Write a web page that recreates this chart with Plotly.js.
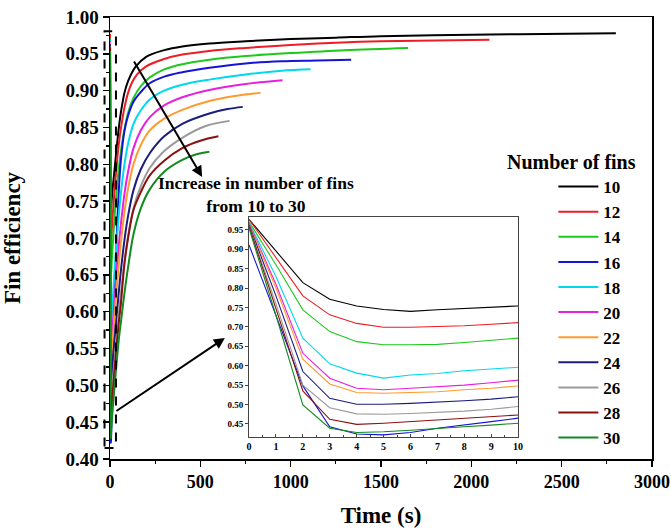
<!DOCTYPE html>
<html>
<head>
<meta charset="utf-8">
<script src="https://cdn.plot.ly/plotly-3.0.1.min.js"></script>
<style>html,body{margin:0;padding:0;background:#fff;}#chart{width:671px;height:532px;}</style>
</head>
<body>
<div id="chart"></div>
<script>
// ---------- data ----------
var finCounts = ["10", "12", "14", "16", "18", "20", "22", "24", "26", "28", "30"];
var colors = ["#000000", "#ee1c24", "#1ec81e", "#1414d8", "#00d8f0", "#e81ee0", "#ff9a30", "#1c1c80", "#9a9a9a", "#8a1010", "#128a20"];

// first 10 s (shown in the inset), t = 0..10 s
var insetTime = [0, 1, 2, 3, 4, 5, 6, 7, 8, 9, 10];
var early10 = [0.977, 0.896, 0.814, 0.771, 0.754, 0.745, 0.740, 0.744, 0.747, 0.751, 0.754];
var early12 = [0.977, 0.880, 0.780, 0.731, 0.709, 0.699, 0.699, 0.701, 0.703, 0.707, 0.711];
var early14 = [0.971, 0.860, 0.744, 0.688, 0.662, 0.654, 0.654, 0.655, 0.660, 0.665, 0.671];
var early16 = [0.911, 0.730, 0.548, 0.443, 0.424, 0.422, 0.428, 0.439, 0.447, 0.456, 0.465];
var early18 = [0.969, 0.830, 0.671, 0.605, 0.581, 0.568, 0.576, 0.580, 0.587, 0.592, 0.596];
var early20 = [0.967, 0.810, 0.632, 0.568, 0.542, 0.538, 0.542, 0.546, 0.550, 0.556, 0.563];
var early22 = [0.965, 0.800, 0.617, 0.553, 0.531, 0.529, 0.531, 0.533, 0.538, 0.542, 0.548];
var early24 = [0.963, 0.780, 0.585, 0.516, 0.501, 0.501, 0.503, 0.506, 0.510, 0.514, 0.520];
var early26 = [0.960, 0.760, 0.550, 0.492, 0.476, 0.475, 0.477, 0.480, 0.483, 0.488, 0.495];
var early28 = [0.959, 0.750, 0.535, 0.462, 0.449, 0.452, 0.456, 0.460, 0.465, 0.469, 0.473];
var early30 = [0.954, 0.730, 0.499, 0.439, 0.428, 0.430, 0.434, 0.439, 0.443, 0.447, 0.452];

// later times (s) and efficiencies
var late10t = [15, 20, 30, 40, 50, 60, 80, 100, 140, 200, 300, 400, 550, 750, 1000, 1250, 1500, 2000, 2400, 2800];
var late10  = [0.768, 0.780, 0.805, 0.830, 0.852, 0.870, 0.897, 0.913, 0.932, 0.946, 0.955, 0.960, 0.964, 0.967, 0.970, 0.972, 0.974, 0.976, 0.977, 0.978];
var late12t = [15, 20, 30, 40, 50, 60, 80, 100, 120, 150, 200, 300, 400, 550, 750, 1000, 1250, 1500, 1800, 2100];
var late12  = [0.730, 0.748, 0.780, 0.807, 0.830, 0.848, 0.877, 0.897, 0.910, 0.922, 0.933, 0.943, 0.949, 0.954, 0.958, 0.962, 0.965, 0.967, 0.968, 0.969];
var late14t = [15, 20, 30, 40, 50, 60, 80, 100, 130, 170, 220, 300, 400, 550, 750, 1000, 1300, 1650];
var late14  = [0.690, 0.710, 0.745, 0.774, 0.797, 0.817, 0.848, 0.870, 0.890, 0.906, 0.918, 0.929, 0.936, 0.942, 0.947, 0.951, 0.955, 0.958];
var late16t = [15, 20, 30, 40, 50, 60, 80, 100, 130, 170, 220, 300, 400, 550, 750, 950, 1150, 1335];
var late16  = [0.520, 0.570, 0.655, 0.720, 0.770, 0.805, 0.845, 0.866, 0.885, 0.898, 0.910, 0.919, 0.925, 0.931, 0.937, 0.940, 0.941, 0.942];
var late18t = [15, 20, 30, 40, 50, 60, 80, 100, 130, 170, 220, 300, 400, 550, 750, 950, 1110];
var late18  = [0.615, 0.635, 0.672, 0.705, 0.735, 0.760, 0.800, 0.828, 0.855, 0.873, 0.888, 0.900, 0.908, 0.915, 0.922, 0.927, 0.929];
var late20t = [15, 20, 30, 40, 50, 60, 80, 100, 130, 170, 220, 300, 400, 550, 750, 955];
var late20  = [0.580, 0.598, 0.632, 0.664, 0.693, 0.718, 0.760, 0.790, 0.822, 0.846, 0.864, 0.880, 0.891, 0.901, 0.909, 0.914];
var late22t = [15, 20, 30, 40, 50, 60, 80, 100, 130, 170, 220, 300, 400, 550, 700, 833];
var late22  = [0.562, 0.578, 0.610, 0.640, 0.668, 0.693, 0.735, 0.767, 0.800, 0.826, 0.846, 0.862, 0.874, 0.886, 0.893, 0.897];
var late24t = [15, 20, 30, 40, 50, 60, 80, 100, 130, 170, 220, 300, 400, 550, 650, 735];
var late24  = [0.532, 0.546, 0.575, 0.603, 0.630, 0.655, 0.697, 0.730, 0.765, 0.793, 0.815, 0.838, 0.855, 0.869, 0.875, 0.878];
var late26t = [15, 20, 30, 40, 50, 60, 80, 100, 130, 170, 220, 300, 400, 530, 662];
var late26  = [0.507, 0.520, 0.547, 0.574, 0.600, 0.624, 0.667, 0.702, 0.740, 0.770, 0.795, 0.818, 0.836, 0.852, 0.859];
var late28t = [15, 20, 30, 40, 50, 60, 80, 100, 130, 170, 220, 300, 400, 500, 600];
var late28  = [0.490, 0.505, 0.535, 0.563, 0.588, 0.610, 0.665, 0.700, 0.738, 0.762, 0.785, 0.805, 0.822, 0.832, 0.838];
var late30t = [15, 20, 30, 40, 50, 60, 80, 100, 130, 170, 220, 300, 400, 470, 550];
var late30  = [0.468, 0.483, 0.512, 0.540, 0.565, 0.585, 0.625, 0.660, 0.705, 0.740, 0.766, 0.790, 0.806, 0.813, 0.817];

var earlyAll = [early10, early12, early14, early16, early18, early20, early22, early24, early26, early28, early30];
var lateTimes = [late10t, late12t, late14t, late16t, late18t, late20t, late22t, late24t, late26t, late28t, late30t];
var lateVals = [late10, late12, late14, late16, late18, late20, late22, late24, late26, late28, late30];

var xTicksMain = [0, 500, 1000, 1500, 2000, 2500, 3000];
var insetXTicks = [0, 1, 2, 3, 4, 5, 6, 7, 8, 9, 10];

// ---------- traces ----------
var serif = "Liberation Serif, Times New Roman, serif";
var traces = [];
for (var i = 0; i < finCounts.length; i++) {
  traces.push({
    type: "scatter", mode: "lines",
    x: insetTime.concat(lateTimes[i]),
    y: earlyAll[i].concat(lateVals[i]),
    name: finCounts[i],
    line: {color: colors[i], width: 2, shape: "spline", smoothing: 1},
    xaxis: "x", yaxis: "y", showlegend: true
  });
}
for (var j = 0; j < finCounts.length; j++) {
  traces.push({
    type: "scatter", mode: "lines",
    x: insetTime, y: earlyAll[j],
    name: finCounts[j],
    line: {color: colors[j], width: 1.1},
    xaxis: "x2", yaxis: "y2", showlegend: false
  });
}

var layout = {
  width: 671, height: 532,
  margin: {l: 110, r: 19, t: 17, b: 73},
  paper_bgcolor: "#ffffff", plot_bgcolor: "#ffffff",
  font: {family: serif, color: "#000"},
  showlegend: true,
  legend: {
    x: 0.818, y: 0.656, xanchor: "left", yanchor: "top",
    bgcolor: "rgba(0,0,0,0)", borderwidth: 0,
    font: {family: serif, size: 17, weight: "bold", color: "#000"},
    tracegroupgap: 0, itemwidth: 40
  },
  xaxis: {
    domain: [0, 1], range: [0, 3000], tickvals: xTicksMain,
    ticks: "outside", ticklen: 6, tickwidth: 1.5, tickcolor: "#000",
    showline: true, linewidth: 1.5, linecolor: "#000", mirror: true,
    showgrid: false, zeroline: false, ticklabeloverflow: "allow",
    minor: {ticks: "outside", ticklen: 3, dtick: 250, tickcolor: "#000", tickwidth: 1.2, showgrid: false},
    tickfont: {family: serif, size: 18, weight: "bold"},
    title: {text: "Time (s)", font: {family: serif, size: 23, weight: "bold"}, standoff: 16}
  },
  yaxis: {
    domain: [0, 1], range: [0.4, 1.0], dtick: 0.05, tickformat: ".2f",
    ticks: "outside", ticklen: 6, tickwidth: 1.5, tickcolor: "#000",
    showline: true, linewidth: 1.5, linecolor: "#000", mirror: true,
    showgrid: false, zeroline: false, ticklabeloverflow: "allow",
    minor: {ticks: "outside", ticklen: 3, dtick: 0.025, tickcolor: "#000", tickwidth: 1.2, showgrid: false},
    tickfont: {family: serif, size: 19, weight: "bold"},
    title: {text: "Fin efficiency", font: {family: serif, size: 23, weight: "bold"}, standoff: 40}
  },
  xaxis2: {
    domain: [0.2565, 0.753], anchor: "y2", range: [0, 10], tickvals: insetXTicks,
    ticks: "inside", ticklen: 3, tickwidth: 1, tickcolor: "#444",
    showline: true, linewidth: 1, linecolor: "#444", mirror: true,
    showgrid: false, zeroline: false,
    minor: {ticks: "inside", ticklen: 2, dtick: 0.5, tickcolor: "#444", showgrid: false},
    tickfont: {family: serif, size: 10, weight: "bold"}
  },
  yaxis2: {
    domain: [0.0498, 0.5475], anchor: "x2", range: [0.4165, 0.983], dtick: 0.05, tickformat: ".2f",
    ticks: "outside", ticklen: 3, tickwidth: 1, tickcolor: "#444",
    showline: true, linewidth: 1, linecolor: "#444", mirror: true,
    showgrid: false, zeroline: false,
    tickfont: {family: serif, size: 9, weight: "bold"}
  },
  shapes: [
    {type: "rect", xref: "paper", yref: "paper", x0: -0.0101, x1: 0.011, y0: 0.025, y1: 0.968,
     line: {color: "#000", width: 2, dash: "dash"}}
  ],
  annotations: [
    {xref: "paper", yref: "paper", x: 0.170, y: 0.638, ax: -69, ay: -117, axref: "pixel", ayref: "pixel",
     text: "", showarrow: true, arrowhead: 2, arrowsize: 1.1, arrowwidth: 2, arrowcolor: "#000"},
    {xref: "paper", yref: "paper", x: 0.212, y: 0.2738, ax: -110, ay: 74, axref: "pixel", ayref: "pixel",
     text: "", showarrow: true, arrowhead: 2, arrowsize: 1.1, arrowwidth: 2, arrowcolor: "#000"},
    {xref: "paper", yref: "paper", x: 0.270, y: 0.598, xanchor: "center", yanchor: "middle",
     text: "Increase in number of fins<br>from 10 to 30", showarrow: false, align: "center",
     font: {family: serif, size: 17.5, weight: "bold", color: "#000"}},
    {xref: "paper", yref: "paper", x: 0.852, y: 0.672, xanchor: "center", yanchor: "middle",
     text: "Number of fins", showarrow: false,
     font: {family: serif, size: 20, weight: "bold", color: "#000"}}
  ]
};

Plotly.newPlot("chart", traces, layout, {displayModeBar: false, staticPlot: true});
</script>
</body>
</html>
